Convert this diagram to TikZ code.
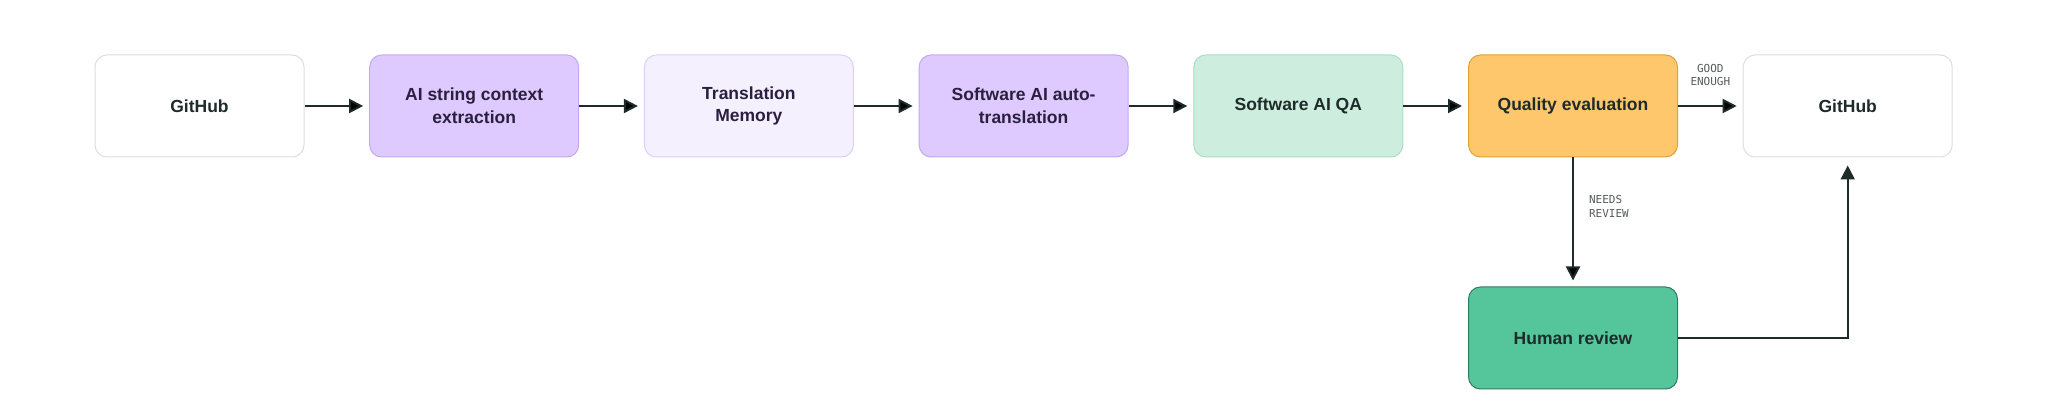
\documentclass[tikz,border=0pt]{standalone}
\usepackage{fontspec}
\setmainfont{Liberation Sans}
\setmonofont{DejaVu Sans Mono}
\usepackage{tikz}
\usetikzlibrary{arrows.meta,positioning}

\definecolor{inkdark}{HTML}{1F2A2A}
\definecolor{inkpurple}{HTML}{2A1F40}
\definecolor{labelgray}{HTML}{555A5A}
\definecolor{ghborder}{HTML}{DEDEDE}
\definecolor{aifill}{HTML}{DECAFE}
\definecolor{aiborder}{HTML}{C6A6F2}
\definecolor{tmfill}{HTML}{F5F0FE}
\definecolor{tmborder}{HTML}{DDD0F6}
\definecolor{qafill}{HTML}{CDEEDF}
\definecolor{qaborder}{HTML}{A8DEC4}
\definecolor{evalfill}{HTML}{FFC76B}
\definecolor{evalborder}{HTML}{E0A038}
\definecolor{humanfill}{HTML}{55C59B}
\definecolor{humanborder}{HTML}{2E7C5E}

\begin{document}
\begin{tikzpicture}[x=1pt,y=-1pt,node distance=274.7pt,on grid,
    shorten >=6pt,>={Triangle[length=14pt,width=14pt]}]
  \tikzstyle{every node}=[font=\fontsize{17.5}{22.7}\selectfont\bfseries]
  \tikzstyle{stage}=[rectangle,rounded corners=12pt,line width=1pt,
    minimum width=209pt,minimum height=102pt,align=center,text=inkdark]
  \tikzstyle{repo}=[stage,draw=ghborder,fill=white]
  \tikzstyle{aistage}=[stage,draw=aiborder,fill=aifill,text=inkpurple]
  \tikzstyle{memory}=[stage,draw=tmborder,fill=tmfill,text=inkpurple]
  \tikzstyle{check}=[stage,draw=qaborder,fill=qafill]
  \tikzstyle{judge}=[stage,draw=evalborder,fill=evalfill]
  \tikzstyle{human}=[stage,draw=humanborder,fill=humanfill]
  \tikzstyle{tag}=[font=\ttfamily\fontsize{11}{13.3}\selectfont,text=labelgray,inner sep=0pt]
  \tikzstyle{flow}=[draw=inkdark,line width=2pt,->]

  \useasboundingbox (0,0) rectangle (2048,419);

  \node[repo]    (src)   at (199.5,106)     {GitHub};
  \node[aistage] (ctx)   [right of=src]     {AI string context\\extraction};
  \node[memory]  (tm)    [right of=ctx]     {Translation\\Memory};
  \node[aistage] (mt)    [right of=tm]      {Software AI auto-\\translation};
  \node[check]   (qa)    [right of=mt]      {Software AI QA};
  \node[judge]   (eval)  [right of=qa]      {Quality evaluation};
  \node[repo]    (dst)   [right of=eval]    {GitHub};
  \node[human]   (rev)   [below=232pt of eval] {Human review};

  \path[flow]
  (src)  edge (ctx)
  (ctx)  edge (tm)
  (tm)   edge (mt)
  (mt)   edge (qa)
  (qa)   edge (eval)
  (eval) edge node[tag,above=19pt,align=center] (good) {GOOD\\ENOUGH} (dst)
  (eval) edge node[tag,right=15pt,pos=0.38,align=left,anchor=west] (needs) {NEEDS\\REVIEW} (rev);

  \draw[flow,shorten >=8pt] (rev.east) -| (dst.south);
\end{tikzpicture}
\end{document}
